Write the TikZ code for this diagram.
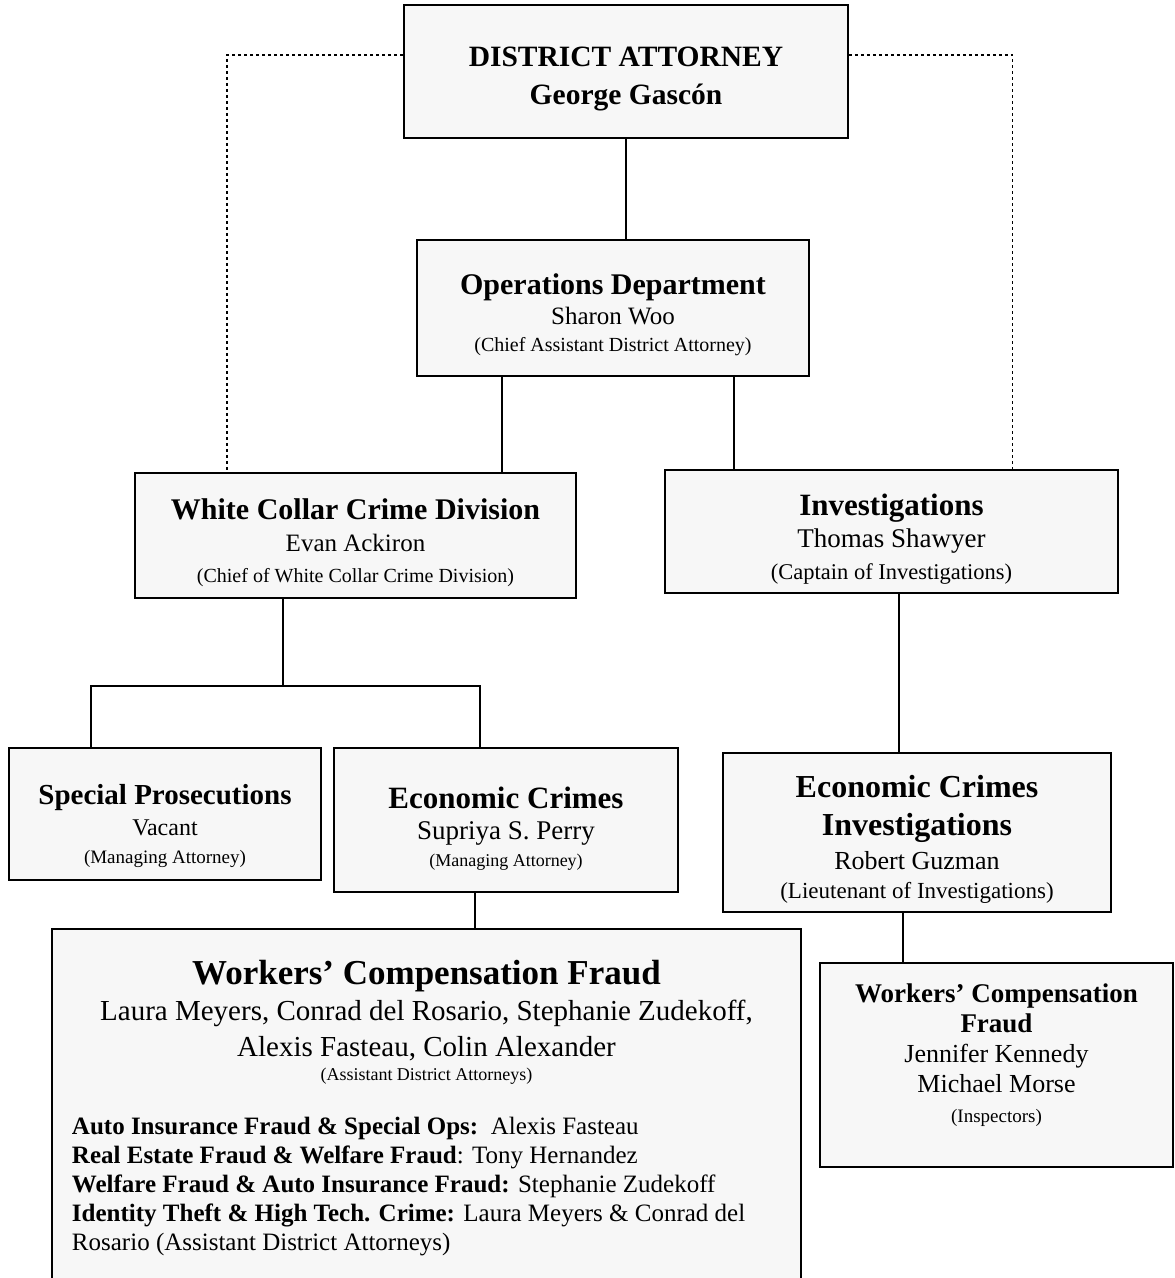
\documentclass[tikz,border=0pt]{standalone}
\usepackage{fontspec}
\setmainfont{Liberation Serif}
\usetikzlibrary{positioning}
\newcommand{\fs}[1]{\fontsize{#1}{#1}\selectfont}
\newcommand{\up}[1]{\rule{0pt}{#1}}

\tikzset{
  unit/.style={draw, line width=1.8pt, fill=black!3, align=center, inner sep=0pt},
  link/.style={line width=1.2pt},
  dotlink/.style={line width=1.3pt, dash pattern=on 3pt off 3pt},
}

\begin{document}
\begin{tikzpicture}[x=1pt, y=-1pt]
\useasboundingbox (0,0) rectangle (1175,1278);
\fill[white] (0,0) rectangle (1175,1278);

% boxes
\node[unit, minimum width=444pt, minimum height=133pt, font=\fontsize{29.5}{38}\selectfont\bfseries] (da) at (626,71.5) {\up{34pt}DISTRICT ATTORNEY\\George Gascón};
\node[unit, minimum width=392pt, minimum height=136pt, font=\fontsize{25}{30}\selectfont] (ops) at (613,308) {\up{35pt}{\fs{30}\bfseries Operations Department}\\Sharon Woo\\[-3pt]{\fs{20}(Chief Assistant District Attorney)}};
\node[unit, minimum width=441pt, minimum height=125pt, font=\fontsize{25}{32}\selectfont] (wcc) at (355.5,535.5) {\up{34.5pt}{\fs{30}\bfseries White Collar Crime Division}\\Evan Ackiron\\[-1pt]{\fs{20}(Chief of White Collar Crime Division)}};
\node[unit, minimum width=453pt, minimum height=123pt, font=\fontsize{27}{32}\selectfont] (inv) at (891.5,531.5) {\up{36.5pt}{\fs{31}\bfseries Investigations}\\Thomas Shawyer\\{\fs{22.5}(Captain of Investigations)}};
\node[unit, minimum width=312pt, minimum height=132pt, font=\fontsize{24}{31}\selectfont] (spp) at (165,814) {\up{44pt}{\fs{29}\bfseries Special Prosecutions}\\Vacant\\[-3pt]{\fs{19}(Managing Attorney)}};
\node[unit, minimum width=344pt, minimum height=144pt, font=\fontsize{27}{31}\selectfont] (ecc) at (506,820) {\up{39pt}{\fs{31}\bfseries Economic Crimes}\\Supriya S. Perry\\[-4pt]{\fs{18}(Managing Attorney)}};
\node[unit, minimum width=388pt, minimum height=159pt, font=\fontsize{26}{34}\selectfont] (eci) at (917,832.5) {\up{36pt}{\fs{32}\bfseries Economic Crimes}\\[4pt]{\fs{32}\bfseries Investigations}\\Robert Guzman\\[-5pt]{\fs{23}(Lieutenant of Investigations)}};
\node[unit, minimum width=353pt, minimum height=204pt, font=\fontsize{26}{30}\selectfont] (wcfi) at (996.5,1065) {{\fs{27}\bfseries Workers’ Compensation}\\{\fs{27}\bfseries Fraud}\\Jennifer Kennedy\\Michael Morse\\{\fs{19}(Inspectors)}\rule[-24pt]{0pt}{24pt}};
\node[unit, anchor=north] (wcf) at (426.5,928) {\parbox[t][370pt][t]{749pt}{\centering
  \vspace*{31pt}
  {\fs{35}\bfseries Workers’ Compensation Fraud\par}
  {\fontsize{29}{36}\selectfont Laura Meyers, Conrad del Rosario, Stephanie Zudekoff,\par Alexis Fasteau, Colin Alexander\par}
  {\fontsize{18}{24}\selectfont (Assistant District Attorneys)\par}
  \vspace{25pt}
  \raggedright\leftskip=20pt
  {\fontsize{25}{29}\selectfont \textbf{Auto Insurance Fraud \& Special Ops:}\ \ Alexis Fasteau\\
  \textbf{Real Estate Fraud \& Welfare Fraud}: Tony Hernandez\\
  \textbf{Welfare Fraud \& Auto Insurance Fraud:} Stephanie Zudekoff\\
  \textbf{Identity Theft \& High Tech. Crime:} Laura Meyers \& Conrad del\\
  Rosario (Assistant District Attorneys)\par}}};

% links
\coordinate (opsl) at ([xshift=-111pt]ops.south);
\coordinate (opsr) at ([xshift=121pt]ops.south);
\coordinate (fork) at (283,686);
\coordinate (invl) at ([xshift=7.5pt]inv.south);
\coordinate (eccl) at ([xshift=-31pt]ecc.south);
\coordinate (ecil) at ([xshift=-14pt]eci.south);
\draw[link] (da.south) -- (da.south |- ops.north);
\draw[link] (opsl) -- (opsl |- wcc.north);
\draw[link] (opsr) -- (opsr |- inv.north);
\draw[link] (wcc.south -| fork) -- (fork);
\draw[link] ([xshift=-74pt]spp.north) |- (fork) -| ([xshift=-26pt]ecc.north);
\draw[link] (invl) -- (invl |- eci.north);
\draw[link] (eccl) -- (eccl |- wcf.north);
\draw[link] (ecil) -- (ecil |- wcfi.north);

% dotted lines
\coordinate (wccd) at ([xshift=-128.5pt]wcc.north);
\coordinate (invd) at ([xshift=121pt]inv.north);
\draw[dotlink] ([yshift=16.5pt]da.west) -| (wccd);
\draw[dotlink] ([yshift=16.5pt]da.east) -| (invd);
\end{tikzpicture}
\end{document}
